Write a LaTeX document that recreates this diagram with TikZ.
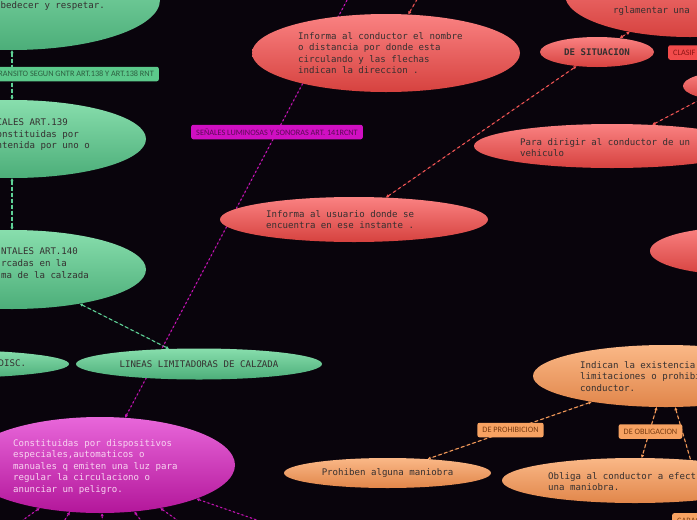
\documentclass[tikz,border=0pt]{standalone}
\usepackage{fontspec}
\setmainfont{Carlito}
\newfontfamily\monof{DejaVu Sans Mono}
\usetikzlibrary{shapes.geometric,arrows.meta}
\pgfdeclarelayer{background}
\pgfsetlayers{background,main}
\definecolor{bg}{HTML}{09040C}
\definecolor{gtop}{HTML}{88DEAD}
\definecolor{gbot}{HTML}{4CAE79}
\definecolor{rtop}{HTML}{FA8282}
\definecolor{rbot}{HTML}{D6423F}
\definecolor{mtop}{HTML}{E867DA}
\definecolor{mbot}{HTML}{B3169A}
\definecolor{otop}{HTML}{FAB887}
\definecolor{obot}{HTML}{E1864A}
\definecolor{ink}{HTML}{353030}
\definecolor{pinkink}{HTML}{F8D4F1}
\definecolor{glab}{HTML}{5CC98B}
\definecolor{gtext}{HTML}{2D5E40}
\definecolor{mlab}{HTML}{D00FC2}
\definecolor{mtext}{HTML}{5C0B55}
\definecolor{rlab}{HTML}{F24B4B}
\definecolor{rtext}{HTML}{8E1515}
\definecolor{olab}{HTML}{F7A262}
\definecolor{otext}{HTML}{7A3C12}
\definecolor{gline}{HTML}{5ED196}
\definecolor{mline}{HTML}{C414B4}
\definecolor{rline}{HTML}{F25555}
\definecolor{oline}{HTML}{F39A5A}
\begin{document}
\begin{tikzpicture}[x=1pt,y=-1pt,
  mono/.style={font=\monof\fontsize{9.1}{11.6}\selectfont, text=ink},
  gell/.style={ellipse, inner sep=0pt, top color=gtop, bottom color=gbot, mono},
  rell/.style={ellipse, inner sep=0pt, top color=rtop, bottom color=rbot, mono},
  mell/.style={ellipse, inner sep=0pt, top color=mtop, bottom color=mbot, mono},
  oell/.style={ellipse, inner sep=0pt, top color=otop, bottom color=obot, mono},
  txt/.style={anchor=north west, inner sep=0pt, align=left, mono},
  lab/.style={rounded corners=2pt, inner xsep=5pt, inner ysep=0pt, minimum height=14.5pt, font=\fontsize{8.25}{9}\selectfont},
  tips/.style={{Triangle[length=3pt,width=3pt]}-{Triangle[length=3pt,width=3pt]}},
  gconn/.style={draw=gline, fill=gline, line width=1.1pt, dash pattern=on 3.5pt off 2.5pt, tips},
  mconn/.style={draw=mline, fill=mline, line width=1.1pt, dash pattern=on 2pt off 2.5pt, tips},
  rconn/.style={draw=rline, fill=rline, line width=1.1pt, dash pattern=on 3pt off 3pt, tips},
  oconn/.style={draw=oline, fill=oline, line width=1.1pt, dash pattern=on 3.5pt off 2.5pt, tips}
]
\useasboundingbox (0,0) rectangle (697,520);

% ---------- green ----------
\node[gell, minimum width=296pt, minimum height=100pt] (G1) at (12,0) {};
\node[txt] (G1t) at (-5,1.5) {obedecer y respetar.};
\node[gell, minimum width=268pt, minimum height=78pt] (G2) at (12,139) {};
\node[txt] (G2t) at (-3.5,118.5) {CALES ART.139\\onstituidas por\\ntenida por uno o};
\node[gell, minimum width=268pt, minimum height=79pt] (G3) at (12,269.5) {};
\node[txt] (G3t) at (1,248) {NTALES ART.140\\rcadas en la\\ma de la calzada};
\node[gell, minimum width=250pt, minimum height=28pt] (G4) at (-56,364) {};
\node[txt] (G4t) at (-1.5,360) {DISC.};
\node[gell, minimum width=246pt, minimum height=31pt] (G5) at (199,364) {LINEAS LIMITADORAS DE CALZADA};

% ---------- red ----------
\node[rell, minimum width=250pt, minimum height=84pt] (R1) at (690,-5) {};
\node[txt] (R1t) at (613,6) {rglamentar una};
\node[rell, minimum width=268pt, minimum height=78pt] (R2) at (386,53) {};
\node[txt] (R2t) at (298,32) {Informa al conductor el nombre\\o distancia por donde esta\\circulando y las flechas\\indican la direccion .};
\node[rell, minimum width=114pt, minimum height=30pt, font=\monof\bfseries\fontsize{9.1}{11.6}\selectfont] (R3) at (597,52) {DE SITUACION};
\node[rell, minimum width=86pt, minimum height=28pt] (R4) at (726,86) {};
\node[rell, minimum width=276pt, minimum height=44pt] (R5) at (612,146) {};
\node[txt] (R5t) at (520,138) {Para dirigir al conductor de un\\vehiculo};
\node[rell, minimum width=268pt, minimum height=45pt] (R6) at (354,219.5) {};
\node[txt] (R6t) at (266,210) {Informa al usuario donde se\\encuentra en ese instante .};
\node[rell, minimum width=180pt, minimum height=48pt] (R7) at (740,251) {};

% ---------- magenta ----------
\node[mell, minimum width=270pt, minimum height=96pt] (M1) at (100,465) {};
\node[txt, text=pinkink] (M1t) at (13,439) {Constituidas por dispositivos\\especiales,automaticos o\\manuales q emiten una luz para\\regular la circulaciono o\\anunciar un peligro.};

% ---------- orange ----------
\node[oell, minimum width=266pt, minimum height=62pt] (O1) at (666,376) {};
\node[txt] (O1t) at (580,361) {Indican la existencia\\limitaciones o prohibi\\conductor.};
\node[oell, minimum width=207pt, minimum height=30pt] (O2) at (387.5,473) {Prohiben alguna maniobra};
\node[oell, minimum width=266pt, minimum height=45pt] (O3) at (635,480.5) {};
\node[txt] (O3t) at (548,472) {Obliga al conductor a efect\\una maniobra.};

% ---------- free ends ----------
\coordinate (rtopend) at (434,-30);
\coordinate (mtopend) at (363,-30);
\coordinate (mb1) at (-33,560);
\coordinate (mb2) at (39,560);
\coordinate (mb3) at (104,560);
\coordinate (mb4) at (170,560);
\coordinate (mb5) at (233,560);
\coordinate (mb6) at (371,560);
\coordinate (obotend) at (720,560);

% ---------- connectors ----------
\begin{pgfonlayer}{background}
\fill[bg] (0,0) rectangle (697,520);
\draw[gconn] (G1) -- (G2);
\draw[gconn] (G2) -- (G3);
\draw[gconn] (G3) -- (G5);
\draw[rconn] (R6) -- (R3);
\draw[rconn] (R3) -- (R1);
\draw[rconn] (R5) -- (R4);
\draw[rconn] (R2) -- (rtopend);
\draw[mconn] (M1) -- (mtopend);
\draw[mconn] (M1) -- (mb1);
\draw[mconn] (M1) -- (mb2);
\draw[mconn] (M1) -- (mb3);
\draw[mconn] (M1) -- (mb4);
\draw[mconn] (M1) -- (mb5);
\draw[mconn] (M1) -- (mb6);
\draw[oconn] (O1) -- (O2);
\draw[oconn] (O1) -- (O3);
\draw[oconn] (O1) -- (obotend);
\end{pgfonlayer}

% ---------- labels ----------
\node[lab, fill=glab, text=gtext, anchor=east] (L1) at (159,74) {RANSITO SEGUN GNTR ART.138 Y ART.138 RNT};
\node[lab, fill=mlab, text=mtext] (LM) at (277,132) {SEÑALES LUMINOSAS Y SONORAS ART. 141RCNT};
\node[lab, fill=rlab, text=rtext, anchor=west, text width=70pt, align=left] (LC) at (668,52.5) {CLASIF};
\node[lab, fill=olab, text=otext] (LP) at (510.5,430) {DE PROHIBICION};
\node[lab, fill=olab, text=otext] (LO) at (650.5,431.5) {DE OBLIGACION};
\node[lab, fill=olab, text=otext, anchor=north west, text width=62pt, align=left] (LK) at (672,513) {CARAC};
\end{tikzpicture}
\end{document}
